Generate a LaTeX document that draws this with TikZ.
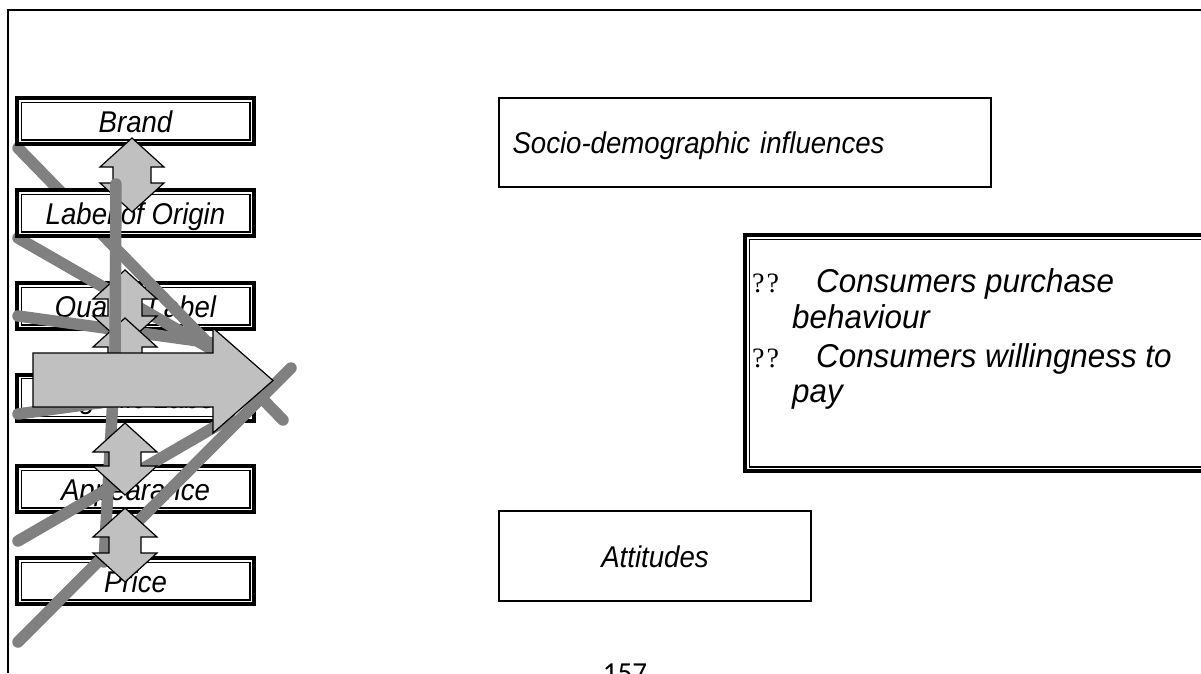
\documentclass[tikz,border=0pt]{standalone}
\usepackage{fontspec}
\usetikzlibrary{calc,positioning}
\newfontfamily\boxfont[FakeStretch=0.92]{Liberation Sans}
\newfontfamily\listfont[FakeStretch=0.95]{Liberation Sans}
\newfontfamily\markfont{Liberation Serif}
\newfontfamily\pagefont{Carlito}
\definecolor{linegray}{HTML}{808080}
\definecolor{arrowgray}{HTML}{C0C0C0}
\tikzset{
  factor/.style={draw, line width=4pt, fill=white, inner sep=0pt,
    minimum width=237pt, minimum height=46pt, text height=22pt, text depth=0pt,
    font=\boxfont\itshape\fontsize{30}{34}\selectfont,
    path picture={\draw[line width=1.4pt] ([shift={(4.2pt,-4.2pt)}]path picture bounding box.north west) rectangle ([shift={(-4.2pt,4.2pt)}]path picture bounding box.south east);}},
  plain/.style={draw, line width=2.4pt, fill=white, inner sep=0pt, text height=22pt, text depth=0pt,
    font=\boxfont\itshape\fontsize{30}{34}\selectfont},
  scribble/.style={draw=linegray, line width=11.5pt, line cap=round, line join=round},
  updown/.style={draw=black, fill=arrowgray, line width=1.2pt},
  bullettext/.style={anchor=base west, inner sep=0pt, font=\listfont\itshape\fontsize{33}{36}\selectfont}
}
% x, top tip, bottom tip, half shaft
\newcommand{\UpDownArrow}[4]{%
  \draw[updown] (#1,#2) -- ++(32,29) -- ++({#4-32},0) -- ({#1+#4},{#3-29}) -- ++({32-#4},0) -- (#1,#3)
    -- ++(-32,-29) -- ++({32-#4},0) -- ({#1-#4},{#2+29}) -- ++({#4-32},0) -- cycle;}
\newcommand{\qq}{{\markfont\upshape\fontsize{28}{28}\selectfont ?\hspace{2pt}?}}

\begin{document}
\begin{tikzpicture}[x=1pt,y=-1pt]
        \clip (0,0) rectangle (1201,673);
        \fill[white] (0,0) rectangle (1201,673);
        \draw[line width=2pt] (8,673) -- (8,10) -- (1201,10);

        %-----------------------------------------------
        \foreach \n/\y/\t in {quality/306/Quality Label,organic/397.5/Organic Label,appearance/489/Appearance,price/581/Price}
        \node[factor] (\n) at (135.5,\y) {\t};
        %-----------------------------------------------
        \foreach \xa/\ya/\xb/\yb in {18/148/283/420,18/238/213/350,18/316/213/343,18/414/120/400,18/541/230/418,18/642/291/368}
        \draw[scribble] (\xa,\ya) -- (\xb,\yb);
        %-----------------------------------------------
        \foreach \n/\y/\t in {brand/121.3/Brand,origin/213.3/Label of Origin}
        \node[factor] (\n) at (135.5,\y) {\t};
        %-----------------------------------------------
        \UpDownArrow{132}{138}{212}{19}
        \UpDownArrow{125}{270}{345}{17}
        \UpDownArrow{125}{318}{392}{17}
        \draw[scribble] (116,184) -- (115,360) -- (104,562);
        \UpDownArrow{125}{423}{495}{16}
        \UpDownArrow{125}{508}{582}{16}
        %-----------------------------------------------
        \draw[updown] (33,353) -- (213,353) -- (213,328) -- (273,380.5) -- (213,433) -- (213,407) -- (33,407) -- cycle;

        % Right side
        \node[plain, minimum width=491.6pt, minimum height=88.6pt, text width=465pt, align=left] (socio) at (745,142.5) {Socio-demographic influences};
        \node[factor, minimum width=468pt, minimum height=236pt] (behaviour) at (979,353) {};
        \node[bullettext] (q1) at (752,292) {\qq};
        \node[bullettext] (c1) at (816,292) {Consumers purchase};
        \node[bullettext] (c1b) at (792,328) {behaviour};
        \node[bullettext] (q2) at (752,367) {\qq};
        \node[bullettext] (c2) at (816,367) {Consumers willingness to};
        \node[bullettext] (c2b) at (792,402) {pay};
        \node[plain, minimum width=311.6pt, minimum height=89.6pt] (attitudes) at (655,556) {Attitudes};

        \node[font=\pagefont\fontsize{29}{30}\selectfont, anchor=base] (page) at (625,682) {157};
\end{tikzpicture}
\end{document}
